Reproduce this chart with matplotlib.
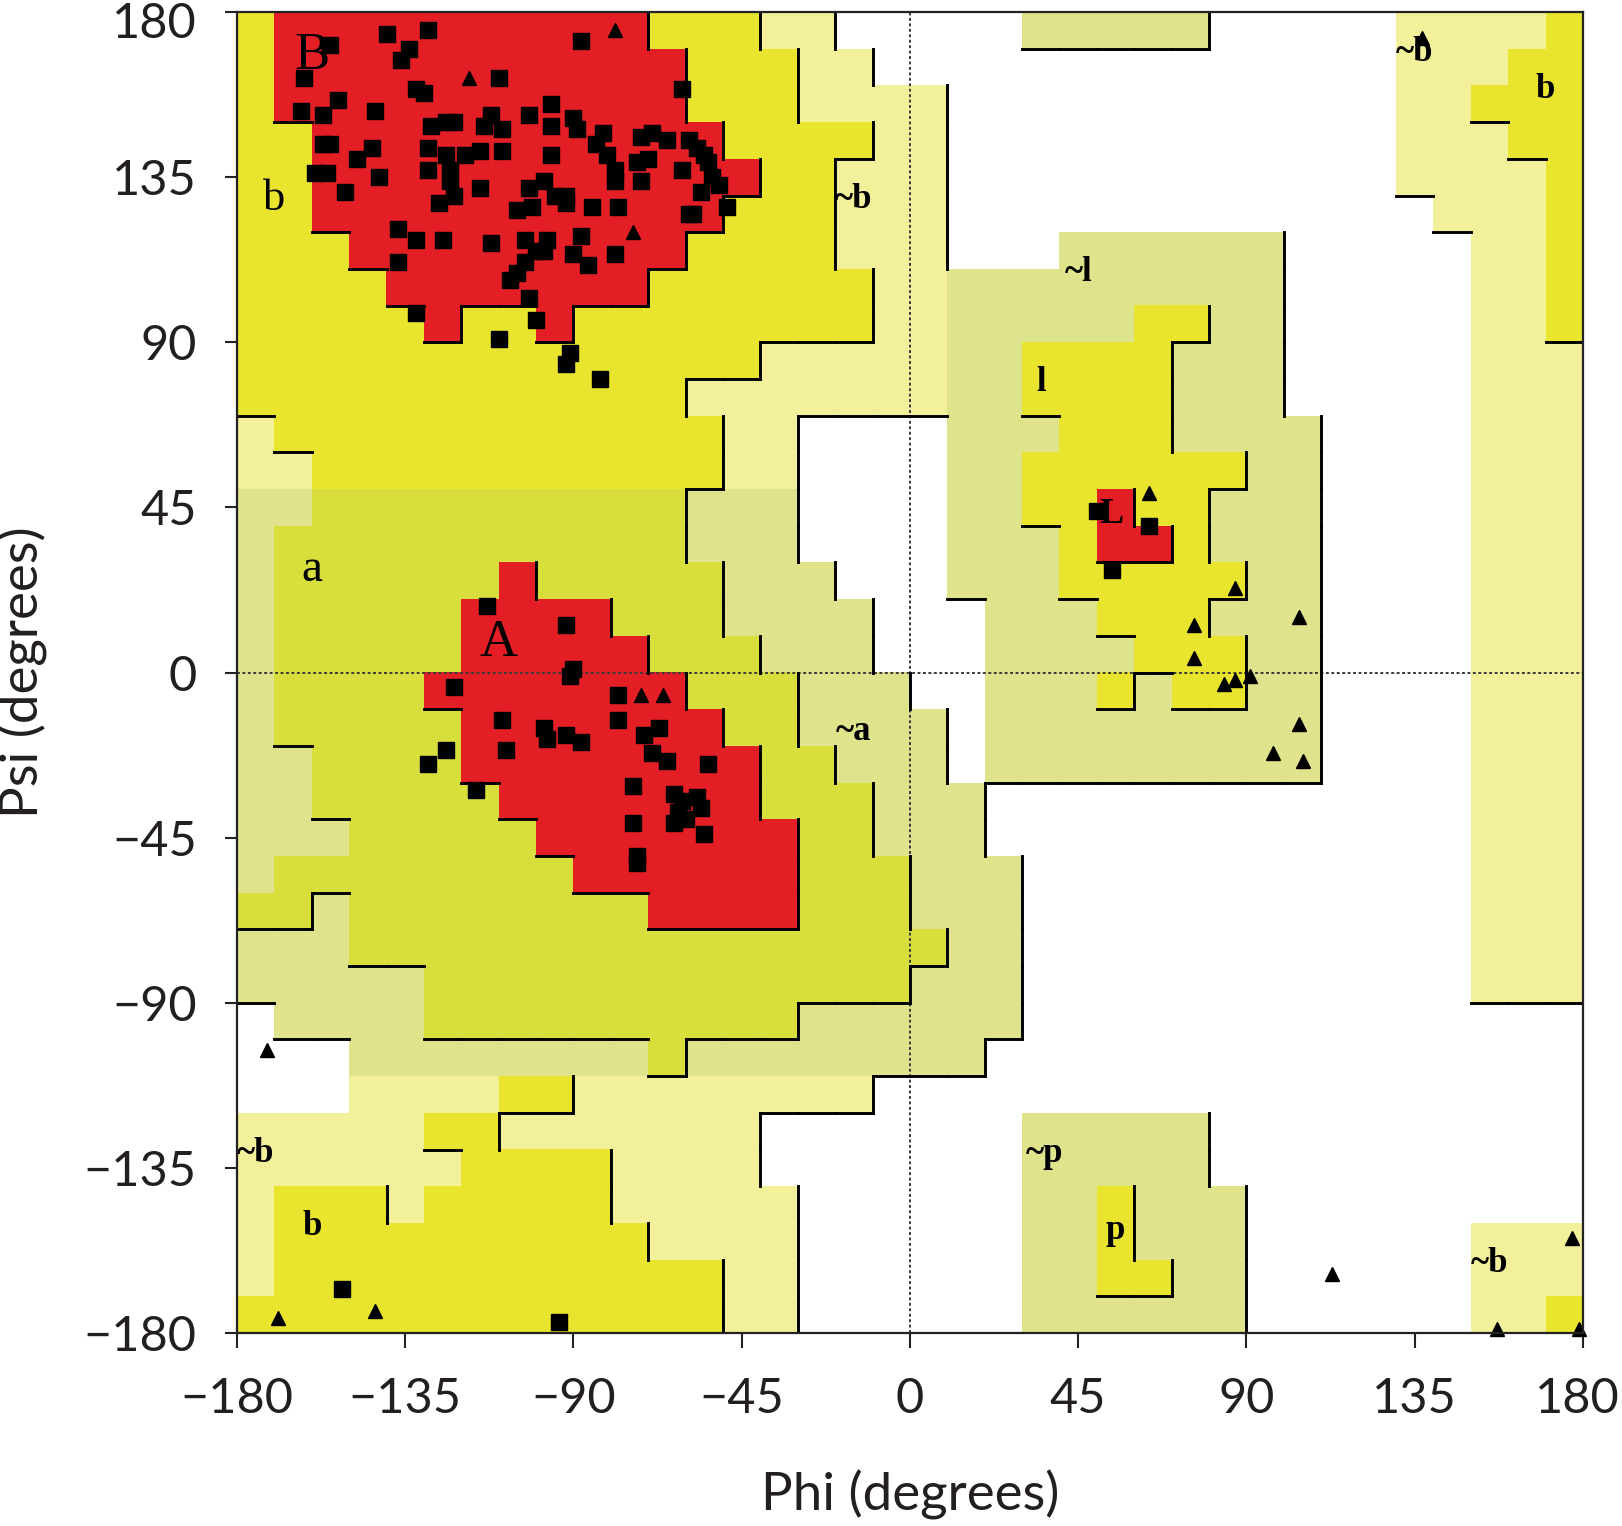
import matplotlib
matplotlib.use('Agg')
import matplotlib.pyplot as plt
import matplotlib.transforms as mtransforms
import numpy as np
from matplotlib.colors import ListedColormap
from matplotlib.collections import LineCollection

# Ramachandran region map, 10 degree cells.
# rows: psi 180 -> -180 (top to bottom), columns: phi -180 -> 180
# R core, Y allowed (b/l/p), A allowed (a), G generous (~a/~l/~p), P generous (~b), W disallowed
region_rows = [
    "YRRRRRRRRRRYYYPPWWWWWGGGGGWWWWWPPPPY",
    "YRRRRRRRRRRRYYYPPWWWWWWWWWWWWWWPPPYY",
    "YRRRRRRRRRRRYYYPPPPWWWWWWWWWWWWPPYYY",
    "YYRRRRRRRRRRRYYYYPPWWWWWWWWWWWWPPPYY",
    "YYRRRRRRRRRRRRYYPPPWWWWWWWWWWWWPPPPY",
    "YYRRRRRRRRRRRYYYPPPWWWWWWWWWWWWWPPPY",
    "YYYRRRRRRRRRYYYYPPPWWWGGGGGGWWWWWPPY",
    "YYYYRRRRRRRYYYYYYPPGGGGGGGGGWWWWWPPY",
    "YYYYYRYYRYYYYYYYYPPGGGGGYYGGWWWWWPPY",
    "YYYYYYYYYYYYYYPPPPPGGYYYYGGGWWWWWPPP",
    "YYYYYYYYYYYYPPPPPPPGGYYYYGGGWWWWWPPP",
    "PYYYYYYYYYYYYPPWWWWGGGYYYGGGGWWWWPPP",
    "PPYYYYYYYYYYYPPWWWWGGYYYYYYGGWWWWPPP",
    "GGAAAAAAAAAAGGGWWWWGGYYRYYGGGWWWWPPP",
    "GAAAAAAAAAAAGGGWWWWGGGYRRYGGGWWWWPPP",
    "GAAAAAARAAAAAGGGWWWGGGYYYYYGGWWWWPPP",
    "GAAAAARRRRAAAGGGGWWWGGGYYYGGGWWWWPPP",
    "GAAAAARRRRRAAAGGGWWWGGGGYYYGGWWWWPPP",
    "GAAAARRRRRRRAAAGGGWWGGGYGYYGGWWWWPPP",
    "GAAAAARRRRRRRAAGGGGWGGGGGGGGGWWWWPPP",
    "GGAAAARRRRRRRRAAGGGWGGGGGGGGGWWWWPPP",
    "GGAAAAARRRRRRRAAAGGGWWWWWWWWWWWWWPPP",
    "GGGAAAAARRRRRRRAAGGGWWWWWWWWWWWWWPPP",
    "GAAAAAAAARRRRRRAAAGGGWWWWWWWWWWWWPPP",
    "AAGAAAAAAAARRRRAAAGGGWWWWWWWWWWWWPPP",
    "GGGAAAAAAAAAAAAAAAAGGWWWWWWWWWWWWPPP",
    "GGGGGAAAAAAAAAAAAAGGGWWWWWWWWWWWWPPP",
    "WGGGGAAAAAAAAAAGGGGGGWWWWWWWWWWWWWWW",
    "WWWGGGGGGGGAGGGGGGGGWWWWWWWWWWWWWWWW",
    "WWWPPPPYYPPPPPPPPWWWWWWWWWWWWWWWWWWW",
    "PPPPPYYPPPPPPPWWWWWWWGGGGGWWWWWWWWWW",
    "PPPPPPYYYYPPPPWWWWWWWGGGGGWWWWWWWWWW",
    "PYYYPYYYYYPPPPPWWWWWWGGYGGGWWWWWWWWW",
    "PYYYYYYYYYYPPPPWWWWWWGGYGGGWWWWWWPPP",
    "PYYYYYYYYYYYYPPWWWWWWGGYYGGWWWWWWPPP",
    "YYYYYYYYYYYYYPPWWWWWWGGGGGGWWWWWWPPY",
]
region_codes = "WPGYAR"
region_colors = ["#ffffff", "#f3f09c", "#dfe48c", "#e9e52f", "#d8df3c", "#e31e25"]
region_level = {"W": 0, "P": 1, "G": 1, "Y": 2, "A": 2, "R": 3}

# residues: squares = non-glycine, triangles = glycine (phi, psi)
square_phi = [-140, -129, -155, -136, -134, -88, -162, -110, -132, -130, -61,
              -163, -157, -153, -143, -96, -102, -112, -90, -89, -128, -124, -122,
              -114, -109, -96, -82, -84, -72, -69, -65, -157, -155, -148, -144,
              -129, -124, -119, -115, -109, -96, -81, -79, -79, -73, -70, -61,
              -159, -156, -151, -142, -129, -123, -123, -122, -115, -126, -102,
              -98, -95, -92, -92, -105, -101, -85, -78, -72, -59, -137, -132,
              -125, -112, -103, -97, -88, -137, -90, -86, -79, -98, -100, -103,
              -105, -107, -102, -132, -100, -110, -91, -92, -83, -59, -57, -55,
              -54, -53, -51, -56, -49, -58,
              -113, -92, -90, -91, -122, -78, -109, -108, -98, -97, -92, -88,
              -78, -71, -67, -69, -65, -124, -129, -116, -74, -63, -61, -62, -60,
              -63, -74, -73, -73, -54, -57, -56, -55,
              50, 54, 64, -152, -94]
square_psi = [174, 175, 171, 167, 170, 172, 162, 162, 159, 158, 159,
              153, 152, 156, 153, 155, 152, 152, 151, 148, 149, 150, 150,
              149, 148, 149, 147, 144, 146, 147, 145, 144, 144, 140, 143,
              143, 141, 141, 142, 142, 141, 141, 137, 134, 139, 140, 137,
              136, 136, 131, 135, 137, 137, 134, 130, 132, 128, 132,
              134, 130, 130, 128, 126, 127, 127, 127, 134, 125, 121, 118,
              118, 117, 118, 118, 119, 112, 114, 111, 114, 115, 115, 112,
              109, 107, 102, 98, 96, 91, 87, 84, 80, 145, 143, 141,
              139, 135, 133, 131, 127, 125,
              18, 13, 1, -1, -4, -6, -13, -21, -15, -18, -17, -19,
              -13, -17, -15, -22, -24, -21, -25, -32, -31, -33, -35, -38, -40,
              -41, -41, -50, -52, -25, -34, -37, -44,
              44, 28, 40, -168, -177]
triangle_phi = [-79, -118, -74, -66, -72, 64, 87, 76, 76, 84, 87, 91, 104, 104,
                97, 105, -172, -143, -169, 113, 177, 157, 179, 137]
triangle_psi = [175, 162, 120, -6, -6, 49, 23, 13, 4, -3, -2, -1, 15, -14,
                -22, -24, -103, -174, -176, -164, -154, -179, -179, 173]

# region labels
label_text = ["B", "b", "A", "a", "L", "l", "~l", "~b", "~a", "~b", "b",
              "~b", "b", "~p", "p", "~b"]
label_phi = [-160, -170, -110, -160, 54, 35, 45, -15, -15, 135, 170,
             -175, -160, 36, 55, 155]
label_psi = [168, 129, 8, 28, 43, 79, 109, 129, -16, 169, 159,
             -131, -151, -131, -152, -161]
label_size = [38, 32, 38, 34, 26, 25, 25, 25, 25, 25, 25,
              25, 25, 25, 25, 25]

grid = np.array([[region_codes.index(ch) for ch in row] for row in region_rows])
level = np.array([[region_level[ch] for ch in row] for row in region_rows])
n_rows, n_cols = grid.shape
step = 360 / n_cols

fig = plt.figure(figsize=(16.22, 15.26), dpi=100)
ax = fig.add_axes([0.1461, 0.1265, 0.8298, 0.8656])
ax.imshow(grid, cmap=ListedColormap(region_colors), vmin=-0.5, vmax=5.5,
          extent=(-180, 180, -180, 180), origin="upper",
          interpolation="nearest", aspect="auto", zorder=0)

# black borders where the region level drops going right or down
segs = []
for r in range(n_rows):
    top = 180 - step * r
    bot = top - step
    for c in range(n_cols):
        left = -180 + step * c
        right = left + step
        if c < n_cols - 1 and level[r, c] > level[r, c + 1]:
            segs.append([(right, bot), (right, top)])
        if r < n_rows - 1 and level[r, c] > level[r + 1, c]:
            segs.append([(left, bot), (right, bot)])
ax.add_collection(LineCollection(segs, colors="black", linewidths=2.1,
                                 capstyle="projecting", zorder=2))

ax.axhline(0, color="#3a3a3a", lw=1.4, ls=(0, (1.5, 1.3)), zorder=1.5)
ax.axvline(0, color="#3a3a3a", lw=1.4, ls=(0, (1.5, 1.3)), zorder=1.5)

for t, x, y, s in zip(label_text, label_phi, label_psi, label_size):
    plain = s >= 32
    ax.text(x, y, t, fontsize=s, family="Liberation Serif",
            fontweight="normal" if plain else "bold",
            ha="center", va="center", zorder=3)

ax.plot(square_phi, square_psi, ls="none", marker="s", ms=11,
        color="black", zorder=4, clip_on=False)
ax.plot(triangle_phi, triangle_psi, ls="none", marker="^", ms=10,
        color="black", zorder=4, clip_on=False)

ax.set_xlim(-180, 180)
ax.set_ylim(-180, 180)
ticks = [-180, -135, -90, -45, 0, 45, 90, 135, 180]
ax.set_xticks(ticks)
ax.set_yticks(ticks)
for sp in ax.spines.values():
    sp.set_linewidth(1.6)
    sp.set_color("#222222")
    sp.set_zorder(5)
ax.tick_params(axis="x", direction="out", length=11, width=1.5,
               color="#222222", pad=21, labelsize=35)
ax.tick_params(axis="y", direction="out", length=9, width=1.5,
               color="#222222", pad=20, labelsize=35)
xlabs = ax.get_xticklabels()
ylabs = ax.get_yticklabels()
for lab in xlabs + ylabs:
    lab.set_family(["Lato", "DejaVu Sans"])
    lab.set_color("#231f20")
# the end labels sit at the figure edge; nudge them inside as in the original
xlabs[-1].set_transform(xlabs[-1].get_transform() +
                        mtransforms.ScaledTranslation(-0.06, 0, fig.dpi_scale_trans))
ylabs[-1].set_transform(ylabs[-1].get_transform() +
                        mtransforms.ScaledTranslation(0, -0.08, fig.dpi_scale_trans))

ax.set_xlabel("Phi (degrees)", fontsize=38, family=["Lato", "DejaVu Sans"],
              color="#231f20", va="center")
ax.set_ylabel("Psi (degrees)", fontsize=38, family=["Lato", "DejaVu Sans"],
              color="#231f20", va="center")
ax.xaxis.set_label_coords(0.5, -0.1226)
ax.yaxis.set_label_coords(-0.159, 0.5)

fig.savefig("out.png", dpi=100)
